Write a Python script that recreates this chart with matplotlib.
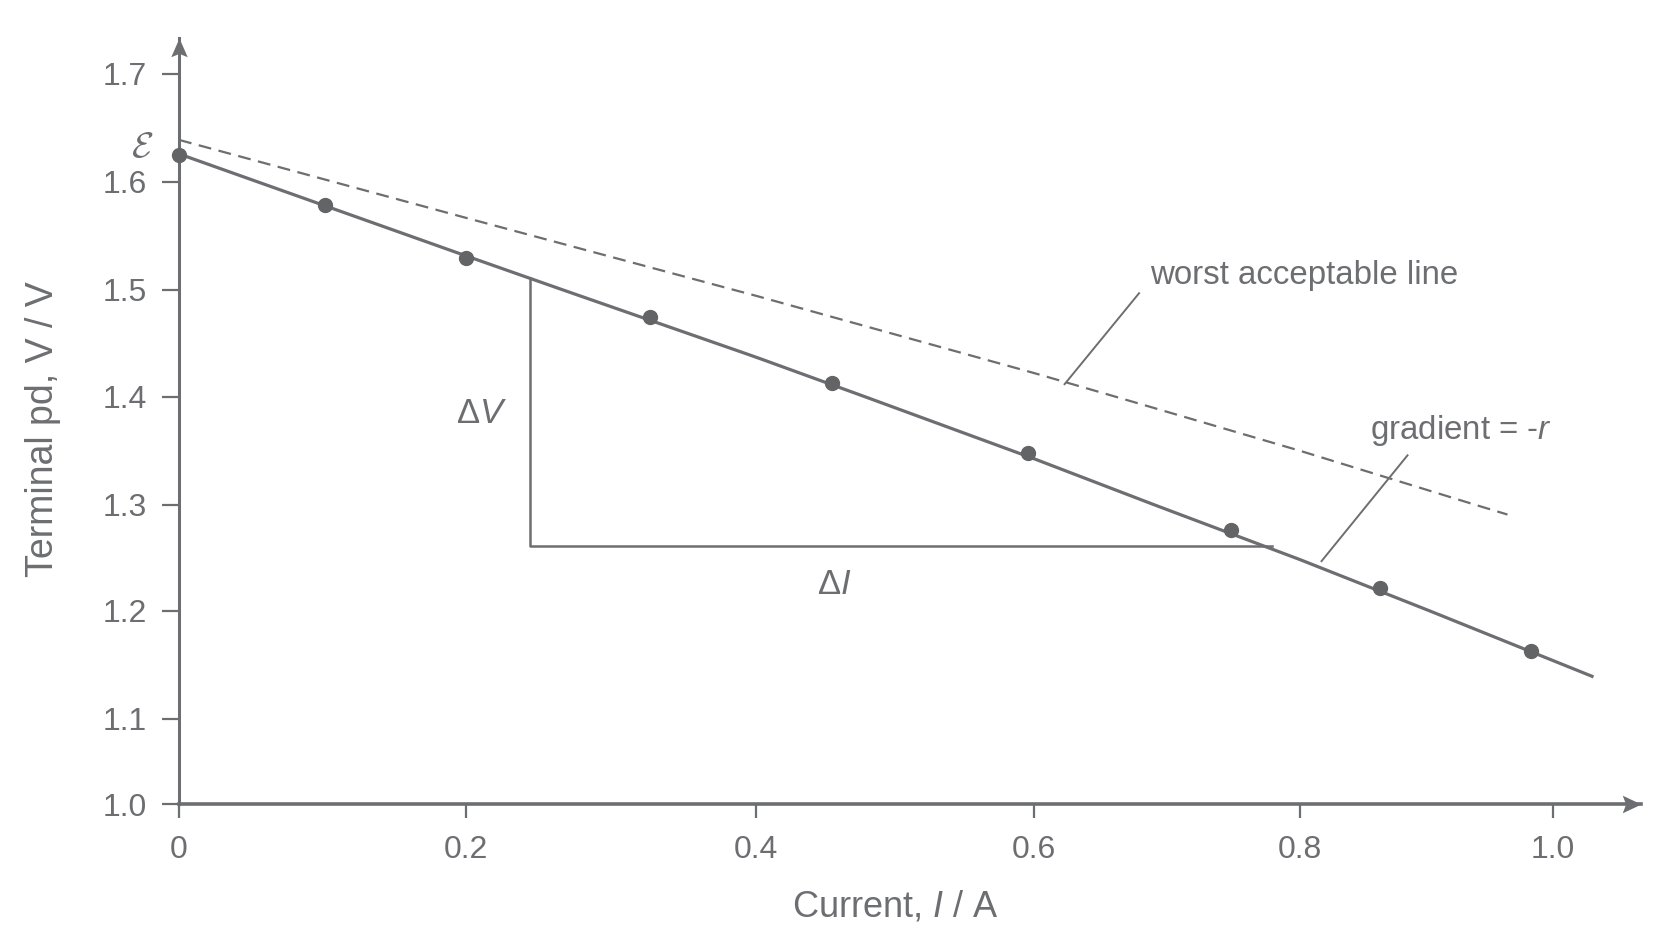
import numpy as np
import matplotlib
matplotlib.use("Agg")
import matplotlib.pyplot as plt
from matplotlib.path import Path

# ---------------- data ----------------
current_A = [0.0, 0.102, 0.20, 0.327, 0.455, 0.596, 0.748, 0.863, 0.983]
terminal_pd_V = [1.625, 1.579, 1.53, 1.475, 1.413, 1.348, 1.276, 1.222, 1.163]

best_fit_I = [0.0, 1.032]
best_fit_V = [1.626, 1.139]

worst_line_I = [0.0, 0.964]
worst_line_V = [1.639, 1.291]

triangle_I = [0.244, 0.244, 0.779]
triangle_V = [1.511, 1.261, 1.261]

x_ticks = [0.0, 0.2, 0.4, 0.6, 0.8, 1.0]
x_tick_labels = ["0", "0.2", "0.4", "0.6", "0.8", "1.0"]
y_ticks = [1.0, 1.1, 1.2, 1.3, 1.4, 1.5, 1.6, 1.7]
y_tick_labels = ["1.0", "1.1", "1.2", "1.3", "1.4", "1.5", "1.6", "1.7"]

# ---------------- style ----------------
GREY = "#6d6e71"
plt.rcParams["font.family"] = ["Liberation Sans", "DejaVu Sans"]
plt.rcParams["mathtext.fontset"] = "custom"
plt.rcParams["mathtext.it"] = "Liberation Sans:italic"
plt.rcParams["mathtext.rm"] = "Liberation Sans"

W, H, DPI = 1672, 941, 100

# hand-drawn axes: tick spacing on the original is not uniform,
# so use a piecewise-linear scale matching the printed tick marks
x_knot_px = [179, 466, 756, 1034, 1300, 1553]
y_knot_px = [137, 222, 330, 436, 544, 651, 759, 867]


def piecewise(xk, yk):
    xk = np.asarray(xk, float)
    yk = np.asarray(yk, float)

    def f(v):
        v = np.asarray(v, float)
        out = np.interp(v, xk, yk)
        lo_s = (yk[1] - yk[0]) / (xk[1] - xk[0])
        hi_s = (yk[-1] - yk[-2]) / (xk[-1] - xk[-2])
        out = np.where(v < xk[0], yk[0] + (v - xk[0]) * lo_s, out)
        out = np.where(v > xk[-1], yk[-1] + (v - xk[-1]) * hi_s, out)
        return out

    return f


fx = piecewise(x_ticks, x_knot_px)
fx_inv = piecewise(x_knot_px, x_ticks)
fy = piecewise(y_ticks, y_knot_px)
fy_inv = piecewise(y_knot_px, y_ticks)

left_px, right_px = 179, 1641
bottom_px, top_px = 137, 903

fig = plt.figure(figsize=(W / DPI, H / DPI), dpi=DPI)
ax = fig.add_axes([left_px / W, bottom_px / H,
                   (right_px - left_px) / W, (top_px - bottom_px) / H])
ax.set_xscale("function", functions=(fx, fx_inv))
ax.set_yscale("function", functions=(fy, fy_inv))
ax.set_xlim(0.0, float(fx_inv(right_px)))
ax.set_ylim(1.0, float(fy_inv(top_px)))

for s in ["top", "right"]:
    ax.spines[s].set_visible(False)
ax.spines["left"].set_color(GREY)
ax.spines["bottom"].set_color(GREY)
ax.spines["left"].set_linewidth(2.2)
ax.spines["bottom"].set_linewidth(2.6)

ax.set_xticks(x_ticks)
ax.set_xticklabels(x_tick_labels)
ax.set_yticks(y_ticks)
ax.set_yticklabels(y_tick_labels)
ax.minorticks_off()
ax.tick_params(axis="both", colors=GREY, labelcolor=GREY, width=1.6,
               labelsize=23, direction="out")
ax.tick_params(axis="x", length=10, pad=12)
ax.tick_params(axis="y", length=12, pad=11)

# arrow heads
right_arrow = Path([(0, 0), (-1, 0.47), (-0.82, 0), (-1, -0.47), (0, 0)],
                   [Path.MOVETO, Path.LINETO, Path.LINETO, Path.LINETO, Path.CLOSEPOLY])
up_arrow = Path([(0, 0), (0.44, -1), (0, -0.82), (-0.44, -1), (0, 0)],
                [Path.MOVETO, Path.LINETO, Path.LINETO, Path.LINETO, Path.CLOSEPOLY])
ax.plot([1.0], [0.0], marker=right_arrow, ms=27, color=GREY, mew=0,
        transform=ax.transAxes, clip_on=False, zorder=5)
ax.plot([0.0], [1.0], marker=up_arrow, ms=27, color=GREY, mew=0,
        transform=ax.transAxes, clip_on=False, zorder=5)


def straight(xs, ys, n=120):
    """Straight segment in data space, subdivided by matplotlib so it
    follows the non-uniform axis scale."""
    p = Path(np.column_stack([xs, ys])).interpolated(n)
    return p.vertices[:, 0], p.vertices[:, 1]


# lines
bx, by = straight(best_fit_I, best_fit_V)
ax.plot(bx, by, color=GREY, lw=2.3, solid_capstyle="butt",
        clip_on=False, zorder=3)
wx, wy = straight(worst_line_I, worst_line_V)
ax.plot(wx, wy, color=GREY, lw=1.6,
        linestyle=(0, (5.8, 3.4)), clip_on=False, zorder=3)
ax.plot(triangle_I, triangle_V, color=GREY, lw=1.8, clip_on=False, zorder=2)

# data points
ax.plot(current_A, terminal_pd_V, linestyle="none", marker="o", ms=10,
        color="#636466", clip_on=False, zorder=4)

# leader lines (straight strokes on the page)
ax.plot([0.679, 0.623], [1.497, 1.412], color=GREY, lw=1.4, zorder=3)
ax.plot([0.885, 0.817], [1.346, 1.247], color=GREY, lw=1.4, zorder=3)

# annotations
ax.text(0.687, 1.506, "worst acceptable line", color=GREY, fontsize=23.8,
        ha="left", va="baseline")
ax.text(0.855, 1.361, "gradient = -$\\it{r}$", color=GREY, fontsize=23.8,
        ha="left", va="baseline")
ax.text(0.211, 1.376, "Δ$\\it{V}$", color=GREY, fontsize=25,
        ha="center", va="baseline")
ax.text(0.456, 1.216, "Δ$\\it{I}$", color=GREY, fontsize=25,
        ha="center", va="baseline")
ax.text(-0.026, 1.632, r"$\mathcal{E}$", color=GREY, fontsize=26,
        ha="center", va="center", clip_on=False, math_fontfamily="cm")

ax.set_xlabel("Current, $\\it{I}$ / A", color=GREY, fontsize=26)
ax.set_ylabel("Terminal pd, V / V", color=GREY, fontsize=27)
ax.xaxis.set_label_coords(0.490, -0.111)
ax.yaxis.set_label_coords(-0.081, 0.49)

fig.savefig("out.png", dpi=DPI, facecolor="white")
